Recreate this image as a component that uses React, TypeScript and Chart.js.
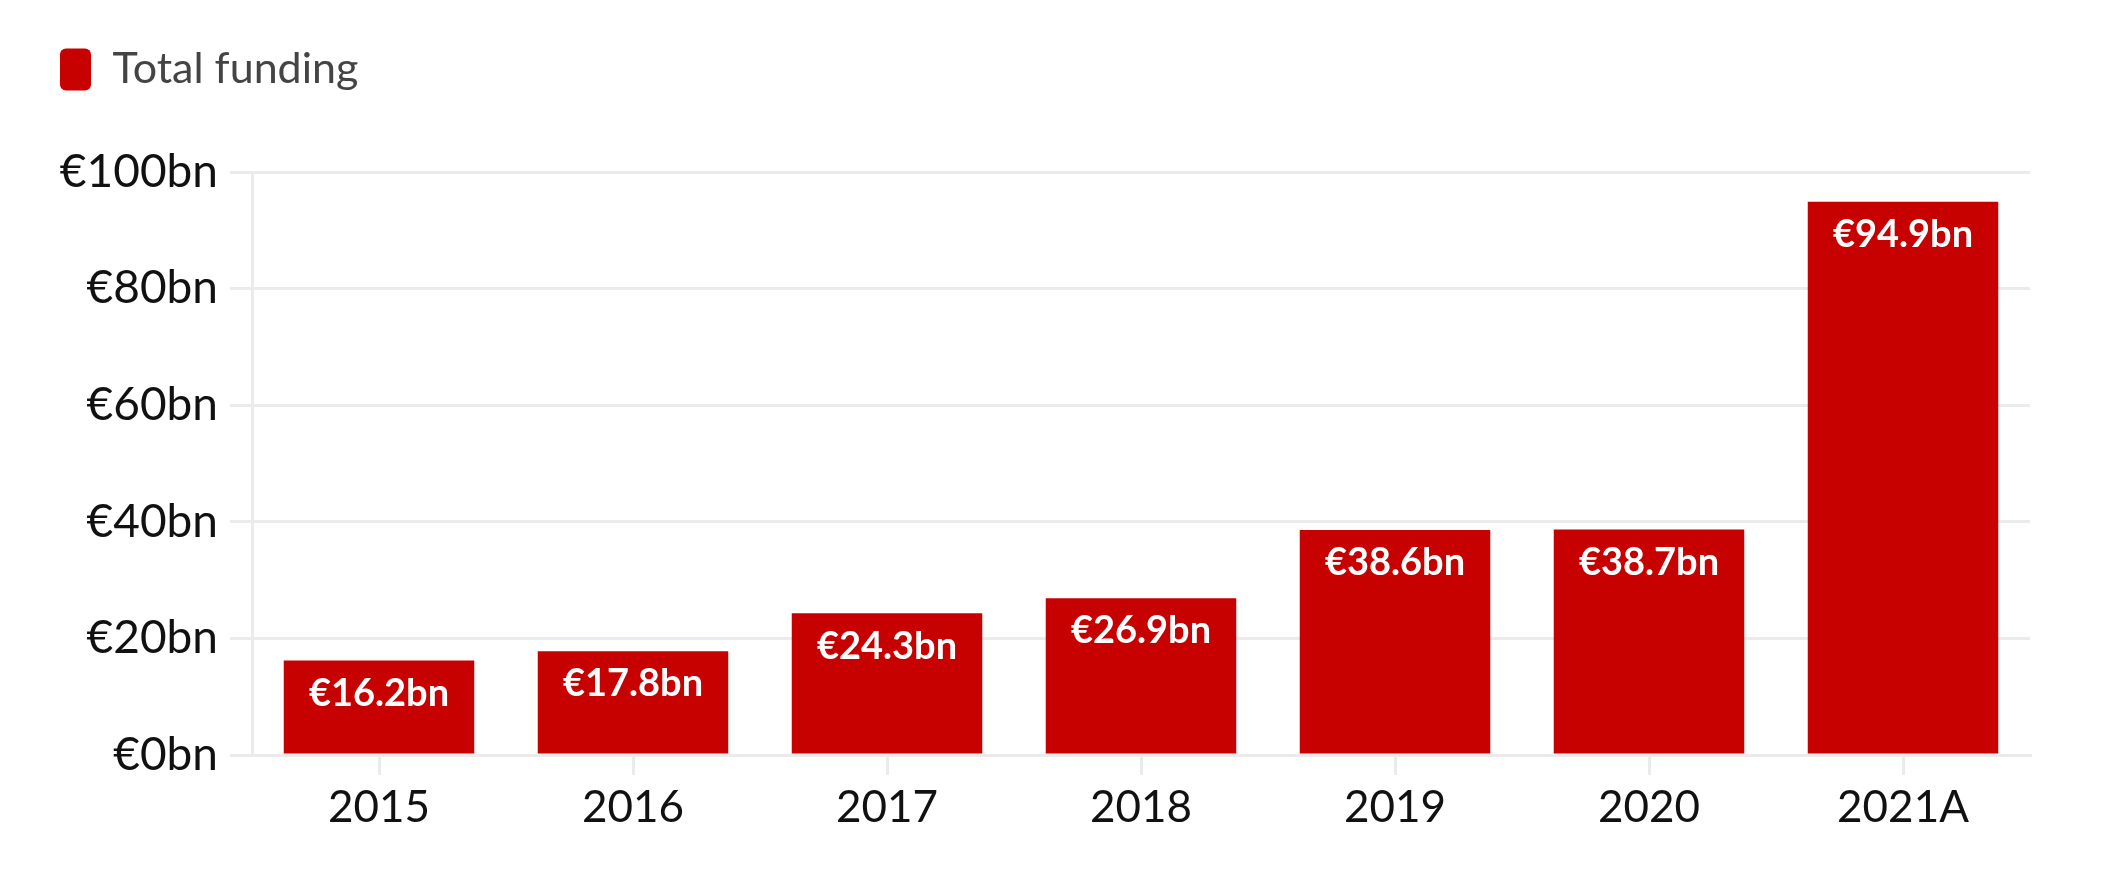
import { useEffect, useRef } from "react";
import { Chart, registerables } from "chart.js";

Chart.register(...registerables);

// data
const years = ["2015", "2016", "2017", "2018", "2019", "2020", "2021A"];
const funding = [16.2, 17.8, 24.3, 26.9, 38.6, 38.7, 94.9];
const yTicks = [0, 20, 40, 60, 80, 100];
const seriesName = "Total funding";

const RED = "#c70000";
const GRID = "#ebebeb";
const FONT = "Lato, 'Noto Sans', sans-serif";

const fmt = (v: number) => `€${v}bn`;

// white value labels inside the top of each bar
const barLabels = {
  id: "barLabels",
  afterDatasetsDraw(chart: any) {
    const { ctx } = chart;
    const meta = chart.getDatasetMeta(0);
    ctx.save();
    ctx.fillStyle = "#ffffff";
    ctx.font = `bold 38px ${FONT}`;
    ctx.textAlign = "center";
    ctx.textBaseline = "middle";
    meta.data.forEach((bar: any, i: number) => {
      ctx.fillText(fmt(funding[i]), bar.x, bar.y + 33);
    });
    ctx.restore();
  },
};

// extra room under the legend
const legendGap = {
  id: "legendGap",
  beforeInit(chart: any) {
    const fit = chart.legend.fit;
    chart.legend.fit = function () {
      fit.bind(chart.legend)();
      this.height += 71;
    };
  },
};

export default function App() {
  const canvasRef = useRef<HTMLCanvasElement>(null);
  const chartRef = useRef<Chart | null>(null);

  useEffect(() => {
    if (!canvasRef.current) return;
    if (chartRef.current) chartRef.current.destroy();

    chartRef.current = new Chart(canvasRef.current, {
      type: "bar",
      data: {
        labels: years,
        datasets: [
          {
            label: seriesName,
            data: funding,
            backgroundColor: RED,
            borderWidth: 0,
            categoryPercentage: 1,
            barPercentage: 0.75,
          },
        ],
      },
      options: {
        animation: false,
        responsive: true,
        maintainAspectRatio: false,
        layout: { padding: { left: 50, right: 96, top: 38, bottom: 0 } },
        plugins: {
          legend: {
            position: "top",
            align: "start",
            labels: {
              boxWidth: 31,
              boxHeight: 42,
              useBorderRadius: true,
              borderRadius: 6,
              padding: 10,
              color: "#444444",
              font: { family: FONT, size: 43 },
            },
          },
          tooltip: { enabled: false },
        },
        scales: {
          x: {
            grid: {
              offset: false,
              drawOnChartArea: false,
              drawTicks: true,
              tickLength: 20,
              color: GRID,
              lineWidth: 3,
            },
            border: { display: true, color: GRID, width: 3 },
            ticks: {
              color: "#111111",
              padding: 6,
              font: { family: FONT, size: 44 },
            },
            afterFit(scale: any) {
              scale.height = 123;
            },
          },
          y: {
            min: 0,
            max: 100,
            afterBuildTicks(scale: any) {
              scale.ticks = yTicks.map((v) => ({ value: v }));
            },
            grid: {
              color: GRID,
              lineWidth: 3,
              tickLength: 22,
            },
            border: { display: true, color: GRID, width: 3 },
            ticks: {
              color: "#111111",
              padding: 12,
              font: { family: FONT, size: 46 },
              callback: (v: any) => fmt(Number(v)),
            },
            afterFit(scale: any) {
              scale.width = 202;
            },
          },
        },
      },
      plugins: [barLabels, legendGap],
    });

    return () => {
      if (chartRef.current) {
        chartRef.current.destroy();
        chartRef.current = null;
      }
    };
  }, []);

  return (
    <div
      style={{
        position: "fixed",
        left: 0,
        top: 0,
        width: 2126,
        height: 878,
        background: "#ffffff",
      }}
    >
      <canvas ref={canvasRef} />
    </div>
  );
}
